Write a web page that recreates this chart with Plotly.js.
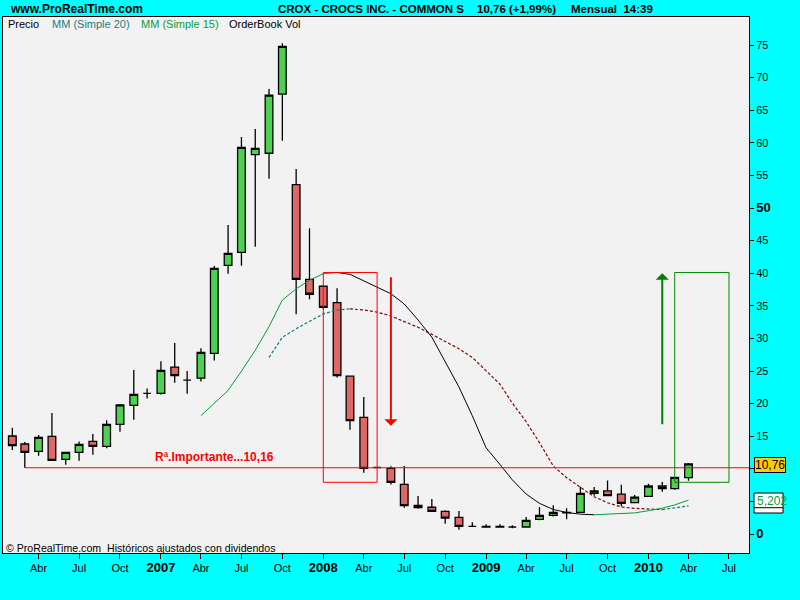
<!DOCTYPE html>
<html><head><meta charset="utf-8">
<script src="https://cdn.plot.ly/plotly-3.0.1.min.js"></script>
<style>html,body{margin:0;padding:0;background:#00ffff}</style>
</head><body><div id="chart" style="width:800px;height:600px"></div>
<script>
const months = ['2006-02-01','2006-03-01','2006-04-01','2006-05-01','2006-06-01','2006-07-01','2006-08-01','2006-09-01','2006-10-01','2006-11-01','2006-12-01',
'2007-01-01','2007-02-01','2007-03-01','2007-04-01','2007-05-01','2007-06-01','2007-07-01','2007-08-01','2007-09-01','2007-10-01','2007-11-01','2007-12-01',
'2008-01-01','2008-02-01','2008-03-01','2008-04-01','2008-05-01','2008-06-01','2008-07-01','2008-08-01','2008-09-01','2008-10-01','2008-11-01','2008-12-01',
'2009-01-01','2009-02-01','2009-03-01','2009-04-01','2009-05-01','2009-06-01','2009-07-01','2009-08-01','2009-09-01','2009-10-01','2009-11-01','2009-12-01',
'2010-01-01','2010-02-01','2010-03-01','2010-04-01'];
const openP  = [15.03,13.8,12.68,14.98,11.46,12.53,14.2,13.45,16.82,19.74,21.58,21.58,25.6,23.6,23.9,27.7,41.2,43.2,58.2,58.4,67.45,53.6,39.06,38.0,35.5,24.2,17.9,10.2,10.07,7.62,4.4,4.1,3.48,2.56,1.18,1.18,1.18,1.07,1.07,2.25,2.87,3.3,3.33,6.24,6.6,6.13,4.8,5.78,7.36,6.95,8.64];
const highP  = [16.3,14.1,15.18,18.56,12.53,14.2,15.34,17.44,19.94,25.15,22.3,26.5,29.3,25.0,28.5,41.1,47.4,60.9,62.1,68.25,75.26,56.0,46.9,38.2,37.7,24.2,21.0,10.3,10.4,10.43,5.83,5.37,3.63,3.53,1.8,1.49,1.49,1.33,2.6,4.14,4.4,3.94,7.26,7.2,8.2,7.56,5.98,7.7,7.98,8.75,10.9];
const lowP   = [12.9,10.16,12.0,11.3,10.63,11.25,12.17,13.14,15.69,17.53,20.8,21.4,23.2,21.5,23.4,26.6,39.9,41.15,44.06,54.5,60.3,33.7,36.0,34.5,24.0,16.0,9.4,10.1,7.6,4.03,3.88,3.48,1.58,0.66,1.07,1.0,1.02,0.87,1.0,2.1,2.7,2.25,3.33,5.88,5.88,4.24,4.7,5.78,6.49,6.8,8.18];
const closeP = [13.54,12.53,14.83,11.3,12.53,13.76,13.45,16.82,19.79,21.43,21.58,25.1,24.3,23.6,27.87,40.75,43.05,59.3,59.15,67.3,74.8,39.06,36.77,34.77,24.3,17.4,10.07,10.2,7.93,4.35,4.03,3.48,2.45,1.18,1.18,1.07,1.07,1.07,2.1,2.87,3.33,3.25,6.24,6.6,5.88,4.7,5.67,7.36,6.95,8.7,10.76];
const sma15 = [null,null,null,null,null,null,null,null,null,null,null,null,null,null,
 18.16,19.98,22.01,24.98,28.17,31.82,35.89,37.59,38.92,39.92,40.11,39.83,38.83,37.89,36.85,35.28,32.83,30.19,26.40,22.54,18.13,13.22,10.68,8.30,6.13,4.70,3.76,3.30,3.04,2.95,3.05,3.10,3.24,3.57,3.96,4.46,5.20];
const sma20 = [null,null,null,null,null,null,null,null,null,null,null,null,null,null,null,null,null,null,null,
 27.10,30.16,31.49,32.59,33.76,34.35,34.53,34.36,34.03,33.44,32.58,31.71,30.62,29.53,28.41,27.08,25.09,22.99,20.08,17.23,14.01,10.43,8.64,7.12,5.71,4.79,4.15,3.93,3.79,3.74,3.96,4.30];
const supportLevel = 10.16;
const lastPrice = '10,76';
const sma15Label = '5,202';
const xTickVals = ['2006-04-01','2006-07-01','2006-10-01','2007-01-01','2007-04-01','2007-07-01','2007-10-01','2008-01-01','2008-04-01','2008-07-01','2008-10-01','2009-01-01','2009-04-01','2009-07-01','2009-10-01','2010-01-01','2010-04-01','2010-07-01'];
const xTickText = ['Abr','Jul','Oct','2007','Abr','Jul','Oct','2008','Abr','Jul','Oct','2009','Abr','Jul','Oct','2010','Abr','Jul'];
const yTickVals = [0,5,10,15,20,25,30,35,40,45,50,55,60,65,70,75];
const boldY = [0,50];
const hiddenY = [5,10]; // covered by the value boxes in the reference

function bigBold(t){return '<span style="font-size:13px"><b>'+t+'</b></span>';}
const xTT = xTickText.map(t => /^\d{4}$/.test(t) ? bigBold(t) : t);
const yTT = yTickVals.map(v => hiddenY.includes(v) ? '' : (boldY.includes(v) ? bigBold(String(v)) : String(v)));

function splitSlope(vals){
  const n = vals.length, up = [], dn = [];
  const seg = i => (vals[i-1]==null||vals[i]==null) ? 0 : (vals[i] >= vals[i-1] ? 1 : -1);
  for(let i=0;i<n;i++){
    const l = i>0 ? seg(i) : 0, r = i<n-1 ? seg(i+1) : 0;
    up.push((l===1||r===1) ? vals[i] : null);
    dn.push((l===-1||r===-1) ? vals[i] : null);
  }
  return {up, dn};
}
const m15 = splitSlope(sma15), m20 = splitSlope(sma20);

const traces = [
 {type:'candlestick', x:months, open:openP, high:highP, low:lowP, close:closeP,
  increasing:{fillcolor:'#50d050', line:{color:'#000', width:1.3}},
  decreasing:{fillcolor:'#df6767', line:{color:'#000', width:1.3}},
  whiskerwidth:0, showlegend:false, hoverinfo:'skip'},
 {type:'scatter', mode:'lines', x:months, y:m20.up, line:{color:'#137a7a', width:1.2, dash:'3px,2px'}, showlegend:false, hoverinfo:'skip'},
 {type:'scatter', mode:'lines', x:months, y:m20.dn, line:{color:'#7a0a0a', width:1.2, dash:'3px,2px'}, showlegend:false, hoverinfo:'skip'},
 {type:'scatter', mode:'lines', x:months, y:m15.up, line:{color:'#00a03c', width:1}, showlegend:false, hoverinfo:'skip'},
 {type:'scatter', mode:'lines', x:months, y:m15.dn, line:{color:'#000000', width:1}, showlegend:false, hoverinfo:'skip'}
];

const W=746, H=536, L=3, T=17;
const px = v => (v - L)/W;
const py = v => (T + H - v)/H;
const font = 'Arial, "Liberation Sans", sans-serif';

const ann = (text, x, y, opts) => Object.assign({text, x, y, xref:'paper', yref:'paper', xanchor:'left', yanchor:'middle', showarrow:false, font:{family:font, size:11, color:'#000'}}, opts||{});

const annotations = [
 ann('<b>www.ProRealTime.com</b>', px(8), py(9), {font:{family:font,size:12,color:'#000'}}),
 ann('<b>CROX - CROCS INC. - COMMON S</b>', px(276), py(9), {font:{family:font,size:11.5,color:'#000'}}),
 ann('<b>10,76 (+1,99%)</b>', px(475), py(9), {font:{family:font,size:11.5,color:'#000'}}),
 ann('<b>Mensual\u00a0\u00a014:39</b>', px(569), py(9), {font:{family:font,size:11.5,color:'#000'}}),
 ann('Precio', px(6), py(24)),
 ann('MM (Simple 20)', px(50), py(24), {font:{family:font,size:11,color:'#1a8080'}}),
 ann('MM (Simple 15)', px(139), py(24), {font:{family:font,size:11,color:'#00a040'}}),
 ann('OrderBook Vol', px(227), py(24)),
 ann('© ProRealTime.com\u00a0 Históricos ajustados con dividendos', px(4), py(547.5), {font:{family:font,size:10.6,color:'#000'}}),
 ann('<b>Rª.Importante...10,16</b>', px(153), py(456.7), {font:{family:font,size:12,color:'#ff0000'}}),
 ann(lastPrice, px(754), py(465), {font:{family:font,size:12,color:'#000'}, bgcolor:'#ffcc00', bordercolor:'#000', borderwidth:1, borderpad:0}),
 ann(sma15Label, px(755), py(500.5), {font:{family:font,size:12,color:'#00a040'}}),
 {x:'2008-06-01', y:16.6, ax:'2008-06-01', ay:39.6, xref:'x', yref:'y', axref:'x', ayref:'y', text:'', showarrow:true, arrowhead:1, arrowsize:1.1, arrowwidth:2, arrowcolor:'#ff0000', standoff:0},
 {x:'2010-02-01', y:40.0, ax:'2010-02-01', ay:16.6, xref:'x', yref:'y', axref:'x', ayref:'y', text:'', showarrow:true, arrowhead:1, arrowsize:1.1, arrowwidth:2, arrowcolor:'#008000', standoff:0}
];

const shapes = [
 {type:'line', xref:'x', yref:'y', x0:months[1], x1:'2010-08-15', y0:supportLevel, y1:supportLevel, line:{color:'#ff0000', width:1.2}},
 {type:'rect', xref:'x', yref:'y', x0:'2008-01-01', x1:'2008-05-01', y0:closeP[28], y1:sma15[24], line:{color:'#ff0000', width:1}},
 {type:'rect', xref:'x', yref:'y', x0:'2010-03-01', x1:'2010-07-01', y0:closeP[28], y1:sma15[24], line:{color:'#008a00', width:1}},
 {type:'rect', xref:'paper', yref:'paper', x0:px(754), x1:px(783), y0:py(513), y1:py(493), fillcolor:'#ffffff', line:{color:'#000', width:1}, layer:'above'},
 {type:'line', xref:'paper', yref:'paper', x0:px(754), x1:px(783), y0:py(507.7), y1:py(507.7), line:{color:'#000', width:1}, layer:'above'}
];

const layout = {
 width:800, height:600,
 margin:{l:3, r:51, t:17, b:47, pad:0, autoexpand:false},
 paper_bgcolor:'#00ffff', plot_bgcolor:'#f2f2f2',
 showlegend:false, hovermode:false, boxgap:0.12,
 font:{family:font, size:11, color:'#000'},
 xaxis:{type:'date', range:['2006-01-11','2010-08-15'], rangeslider:{visible:false},
   tickmode:'array', tickvals:xTickVals, ticktext:xTT, ticks:'outside', ticklen:5, tickcolor:'#000',
   showgrid:false, zeroline:false, showline:true, mirror:true, linecolor:'#000', linewidth:1,
   tickfont:{family:font, size:11, color:'#000'}, fixedrange:true},
 yaxis:{range:[-2.914, 79.294], side:'right', tickmode:'array', tickvals:yTickVals, ticktext:yTT,
   ticks:'outside', ticklen:4, tickcolor:'#000', showgrid:false, zeroline:false,
   showline:true, mirror:true, linecolor:'#000', linewidth:1,
   tickfont:{family:font, size:11, color:'#000'}, fixedrange:true},
 annotations, shapes
};
Plotly.newPlot('chart', traces, layout, {staticPlot:true, displayModeBar:false});
</script></body></html>
